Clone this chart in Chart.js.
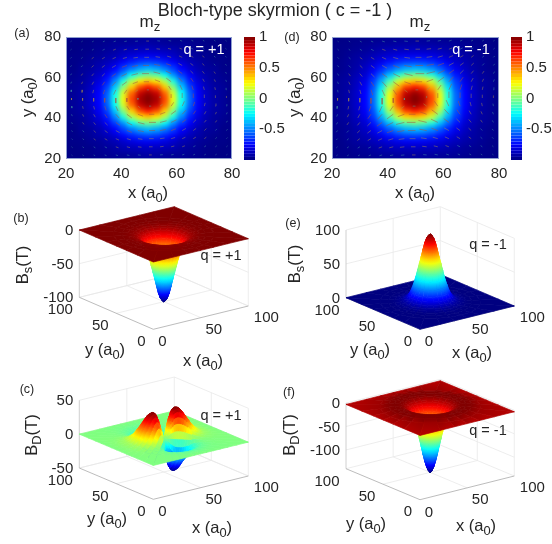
<!DOCTYPE html>
<html><head><meta charset="utf-8">
<style>
html,body{margin:0;padding:0;background:#fff;width:552px;height:544px;overflow:hidden}
canvas{position:absolute;left:0;top:0}
.t{position:absolute;white-space:nowrap;font-family:"Liberation Sans",Arial,sans-serif;color:#262626;transform:translate(-50%,-50%);line-height:1;z-index:5}
.t sub{font-size:.78em;vertical-align:-.32em;line-height:0}
</style>
<script src="https://cdn.jsdelivr.net/npm/chart.js@4"></script>
</head><body>
<script>
// ---------- heat-map data: mz x100, upper-right quadrant, rows dy=0,3..30, columns dx=0,3..30
const heatAxis=[20,23,26,29,32,35,38,41,44,47,50,53,56,59,62,65,68,71,74,77,80];
const mzQuadA=[
[100,93,62,22,-20,-55,-75,-86,-92,-95,-98],
[95,86,55,17,-24,-57,-76,-86,-92,-95,-98],
[71,60,34,1,-36,-63,-78,-88,-93,-95,-98],
[35,28,9,-20,-49,-70,-82,-90,-94,-96,-98],
[-2,-9,-24,-46,-63,-76,-86,-91,-95,-97,-98],
[-39,-43,-52,-63,-75,-84,-90,-94,-95,-98,-98],
[-63,-65,-70,-76,-84,-89,-92,-95,-97,-98,-99],
[-78,-79,-82,-86,-90,-92,-95,-96,-98,-98,-99],
[-87,-88,-89,-90,-93,-95,-96,-98,-98,-99,-99],
[-92,-93,-94,-95,-95,-96,-97,-98,-99,-99,-99],
[-95,-95,-96,-97,-97,-98,-98,-99,-99,-99,-99]];
const mzQuadD=[
[100,93,62,22,-20,-55,-75,-86,-92,-95,-98],
[95,87,57,19,-21,-56,-75,-86,-92,-95,-98],
[71,63,40,7,-31,-60,-77,-87,-93,-95,-98],
[35,31,15,-11,-42,-64,-80,-88,-93,-95,-98],
[-2,-7,-18,-37,-55,-71,-84,-90,-94,-96,-98],
[-39,-41,-48,-58,-69,-79,-87,-92,-95,-97,-98],
[-63,-64,-67,-72,-79,-85,-90,-93,-95,-97,-98],
[-78,-78,-80,-83,-86,-89,-92,-94,-96,-98,-98],
[-87,-88,-88,-89,-91,-93,-95,-96,-97,-98,-98],
[-92,-93,-93,-94,-94,-95,-96,-97,-98,-98,-99],
[-95,-95,-96,-96,-97,-97,-98,-98,-98,-99,-99]];
// in-plane arrow components (a0), by grid steps of 4 a0 from the centre
const arrowAxis=[22,26,30,34,38,42,46,50,54,58,62,66,70,74,78];
const arrowTable=[
[0,0,0,0,0,0,0,0],
[.8,.92,.94,.79,.52,.32,.21,.14],
[1.9,1.88,1.77,1.3,.89,.58,.38,.26],
[2.5,2.37,1.96,1.48,1.02,.69,.49,.33],
[2.2,2.09,1.79,1.36,1.03,.75,.53,.37],
[1.7,1.62,1.44,1.16,.94,.71,.51,.38],
[1.3,1.28,1.14,.98,.79,.61,.46,.36],
[1,.99,.91,.78,.65,.53,.42,.32]];
const colorbarLevels=[-1,-.95,-.9,-.85,-.8,-.75,-.7,-.65,-.6,-.55,-.5,-.45,-.4,-.35,-.3,-.25,-.2,-.15,-.1,-.05,0,.05,.1,.15,.2,.25,.3,.35,.4,.45,.5,.55,.6,.65,.7,.75,.8,.85,.9,.95,1];
const colorbarTicks=[1,.5,0,-.5];
const heatTicks=[20,40,60,80];
// ---------- surface data: radial distance from the centre (a0), value at each ring
const ringRadius=[0,1.5,3,4.5,6,7.5,9,10.5,12,14,16,18,20,23,26,30,35,42];
const bsProfileB=[-100,-98,-94,-87,-77,-66,-56,-46,-36,-25,-16,-10,-6,-3,-1.5,-.5,0,0,0];
const bsProfileE=[100,98,94,87,77,66,56,46,36,25,16,10,6,3,1.5,.5,0,0,0];
const bdProfileF=[-140,-136,-128,-116,-101,-84,-68,-52,-38,-22,-12,-6,-2,2,3.5,4,3,0,-3];
const bdAmplitudeC=[0,6,12,19,28,33,39,41,42,41,39,35,30,23,15,8,3,1,0];
const bdAngularC=[1,.97,.87,.71,.5,.26,0,-.26,-.5,-.71,-.87,-.97,-1,-.97,-.87,-.71,-.5,-.26,0,.26,.5,.71,.87,.97,
                  1,.97,.87,.71,.5,.26,0,-.26,-.5,-.71,-.87,-.97,-1,-.97,-.87,-.71,-.5,-.26,0,.26,.5,.71,.87,.97];
const flatAngular=[1,1,1,1,1,1,1,1,1,1,1,1,1,1,1,1,1,1,1,1,1,1,1,1];
const ticks3d=[0,50,100];
const zTicksB=[0,-50,-100], zTicksE=[0,50,100], zTicksC=[50,0,-50], zTicksF=[0,-50,-100];

const FONT='"Liberation Sans",Arial,sans-serif', INK='#262626';
const clamp=v=>Math.max(0,Math.min(1,v));
function jet(t){t=clamp(t);const c=k=>Math.round(255*clamp(1.5-Math.abs(4*t-k)));return `rgb(${c(3)},${c(2)},${c(1)})`;}
function el(){const c=document.createElement('canvas');c.width=552;c.height=544;document.body.appendChild(c);return c;}
const cellCache={};
function cell(color){if(!cellCache[color]){const c=document.createElement('canvas');c.width=10;c.height=8;const x=c.getContext('2d');x.fillStyle=color;x.fillRect(0,0,10,8);cellCache[color]=c;}return cellCache[color];}

const heatPlugin={id:'heatBlur',
 beforeDatasetsDraw(ch){const a=ch.chartArea,x=ch.ctx;x.save();x.fillStyle=jet(.03);x.fillRect(a.left-10,a.top-10,a.width+20,a.height+20);x.restore();},
 afterDatasetDraw(ch,args){ if(args.index!==ch.data.datasets.length-1)return;
  const cv=ch.canvas,off=document.createElement('canvas');off.width=cv.width;off.height=cv.height;off.getContext('2d').drawImage(cv,0,0);
  const x=ch.ctx,a=ch.chartArea,r=ch.currentDevicePixelRatio;x.save();x.setTransform(1,0,0,1,0,0);x.clearRect(0,0,cv.width,cv.height);
  x.beginPath();x.rect(a.left*r,a.top*r,a.width*r,a.height*r);x.clip();x.filter=`blur(${2.6*r}px)`;x.drawImage(off,0,0);x.restore();},
 afterDraw(ch){const a=ch.chartArea,x=ch.ctx;x.save();x.strokeStyle='#8f9fd0';x.lineWidth=1;x.strokeRect(a.left+.5,a.top+.5,a.width-1,a.height-1);x.restore();}};

function heatChart(quad,box,sign,scale){
 const cells=[];
 for(const yv of heatAxis)for(const xv of heatAxis){
  const j=Math.abs(yv-50)/3,i=Math.abs(xv-50)/3;cells.push({x:xv,y:yv,v:quad[j][i]/100});}
 const groups=[[],[],[]];
 arrowAxis.forEach((yv,jj)=>arrowAxis.forEach((xv,ii)=>{
  const i=ii-7,j=jj-7,ai=Math.abs(i),aj=Math.abs(j);
  const u=sign*Math.sign(j)*arrowTable[aj][ai]*scale,v=Math.sign(i)*arrowTable[ai][aj]*scale;
  const len=Math.hypot(u,v)/scale,g=len>=1.9?0:len>=1?1:2;
  groups[g].push({x:xv,y:yv},{x:xv+u,y:yv+v},{x:null,y:null});}));
 const colors=['rgba(168,80,60,.85)','rgba(168,144,72,.8)','rgba(79,168,160,.7)'];
 const ds=groups.map((d,k)=>({data:d,showLine:true,pointRadius:0,borderColor:colors[k],borderWidth:.6,spanGaps:false}));
 ds.push({data:cells,clip:false,pointStyle:c=>c.raw?cell(jet((c.raw.v+1)/2)):'rect',pointRadius:6,borderWidth:0,backgroundColor:'#000'});
 const tk={color:INK,font:{family:FONT,size:15},maxRotation:0,autoSkip:false};
 const gr={display:false,drawTicks:false,z:1};
 new Chart(el(),{type:'scatter',data:{datasets:ds},plugins:[heatPlugin],options:{
  animation:false,responsive:false,events:[],layout:{autoPadding:false,padding:{left:0,right:552-box.r,top:box.t,bottom:544-box.b-30}},
  plugins:{legend:{display:false},tooltip:{enabled:false}},
  scales:{
   x:{type:'linear',min:20,max:80,afterBuildTicks:s=>{s.ticks=heatTicks.map(v=>({value:v}))},grid:gr,border:{display:false,z:1},ticks:{...tk,z:1,padding:6},afterFit:s=>{s.height=30}},
   y:{type:'linear',min:20,max:80,afterBuildTicks:s=>{s.ticks=heatTicks.map(v=>({value:v}))},grid:gr,border:{display:false,z:1},ticks:{...tk,z:1,padding:5},afterFit:s=>{s.width=box.l}}
  }}});
}
function colorbar(box){
 new Chart(el(),{type:'scatter',data:{datasets:[{data:colorbarLevels.map(v=>({x:0,y:v})),showLine:true,pointRadius:0,borderWidth:box.w,borderCapStyle:'butt',
   segment:{borderColor:c=>jet(((c.p0.parsed.y+c.p1.parsed.y)/2+1)/2)}}]},
  options:{animation:false,responsive:false,events:[],layout:{autoPadding:false,padding:{left:box.l,right:Math.max(0,552-box.l-box.w-40),top:37,bottom:544-160}},
   plugins:{legend:{display:false},tooltip:{enabled:false}},
   scales:{x:{type:'linear',display:false,min:-1,max:1},
    y:{type:'linear',position:'right',min:-1,max:1,afterBuildTicks:s=>{s.ticks=colorbarTicks.map(v=>({value:v}))},grid:{display:false,drawTicks:false},border:{display:false},
      ticks:{color:INK,font:{family:FONT,size:15},padding:4,autoSkip:false,callback:v=>String(v)},afterFit:s=>{s.width=Math.min(40,552-box.l-box.w)}}}}});
}

function surface(p){
 const cv=el(),g2=cv.getContext('2d');
 const proj=(x,y,z)=>({x:p.o[0]+x*p.ex[0]+y*p.ey[0],y:p.o[1]+x*p.ex[1]+y*p.ey[1]-(z-p.zmin)*p.ez});
 const ds=[],n=p.ang.length,rN=ringRadius.length;
 const pt=(a,k)=>{const th=a*2*Math.PI/n,c=Math.cos(th),s=Math.sin(th);
  const r=k<rN?ringRadius[k]:50/Math.max(Math.abs(c),Math.abs(s));
  const z=p.prof[k]*p.ang[a%n];return {x:50+r*c,y:50+r*s,z};};
 const quads=[];
 for(let k=0;k<rN;k++)for(let a=0;a<n;a++){
  const c=[pt(a,k),pt(a+1,k),pt(a+1,k+1),pt(a,k+1)];
  const mx=(c[0].x+c[1].x+c[2].x+c[3].x)/4,my=(c[0].y+c[1].y+c[2].y+c[3].y)/4,mz=(c[0].z+c[1].z+c[2].z+c[3].z)/4;
  const g=mx*p.ex[1]+my*p.ey[1];
  quads.push({c,z:mz,depth:3*g+mz*p.ez});}
 quads.sort((a,b)=>b.depth-a.depth);
 const norm=z=>(z-p.cl[0])/(p.cl[1]-p.cl[0]);
 for(const q of quads){
  const d=q.c.map(v=>proj(v.x,v.y,v.z));d.push(d[0]);
  const zi=(q.c[0].z+q.c[1].z)/2,zo=(q.c[2].z+q.c[3].z)/2;
  const ax=(d[0].x+d[1].x)/2,ay=(d[0].y+d[1].y)/2,bx=(d[2].x+d[3].x)/2,by=(d[2].y+d[3].y)/2;
  const gr=g2.createLinearGradient(ax,ay,bx,by);
  gr.addColorStop(0,jet(norm(zi)));gr.addColorStop(.5,jet(norm((zi+zo)/2)));gr.addColorStop(1,jet(norm(zo)));
  ds.push({data:d,showLine:true,pointRadius:0,fill:'shape',backgroundColor:gr,borderColor:gr,borderWidth:.7});}
 const line=(a,b,col,w)=>ds.push({data:[proj(...a),proj(...b)],showLine:true,pointRadius:0,borderColor:col,borderWidth:w||.8});
 const PALE='#e9e9e9',AX='#ababab',zb=p.zmin,zt=p.zmax;
 line([0,0,zb],[100,0,zb],AX);line([0,0,zb],[0,100,zb],AX);line([0,100,zb],[0,100,zt],'#c4c4c4');
 line([50,0,zb],[50,100,zb],PALE);line([0,50,zb],[100,50,zb],PALE);
 line([100,0,zb],[100,100,zb],PALE);line([0,100,zb],[100,100,zb],PALE);
 line([100,100,zb],[100,100,zt],PALE);line([100,0,zb],[100,0,zt],PALE);
 line([50,100,zb],[50,100,zt],PALE);line([100,50,zb],[100,50,zt],PALE);
 for(const zv of p.zt){line([0,100,zv],[100,100,zv],PALE);line([100,100,zv],[100,0,zv],PALE);}
 const labelPlugin={id:'labels3d',afterDraw(ch){const c=ch.ctx,sx=ch.scales.x,sy=ch.scales.y;c.save();c.font=`15px ${FONT}`;c.fillStyle=INK;c.textBaseline='middle';
   const L=proj(0,100,0).x-6;c.textAlign='right';
   for(const zv of p.zt)c.fillText(String(zv),sx.getPixelForValue(L),sy.getPixelForValue(proj(0,100,zv).y)+1);
   c.textAlign='center';
   const xo=[[9,13],[13,12.4],[18,12]],yo=[[-12,12.4],[-16,13],[-19,13]];
   ticks3d.forEach((v,i)=>{const a=proj(v,0,zb),b=proj(0,v,zb);
    c.fillText(String(v),sx.getPixelForValue(a.x+xo[i][0]),sy.getPixelForValue(a.y+xo[i][1]));
    c.fillText(String(v),sx.getPixelForValue(b.x+yo[i][0]),sy.getPixelForValue(b.y+yo[i][1]));});
   c.restore();}};
 new Chart(cv,{type:'scatter',data:{datasets:ds},plugins:[labelPlugin],options:{animation:false,responsive:false,events:[],
  layout:{autoPadding:false,padding:0},plugins:{legend:{display:false},tooltip:{enabled:false}},
  scales:{x:{type:'linear',display:false,min:0,max:552},y:{type:'linear',display:false,reverse:true,min:0,max:544}}}});
}

heatChart(mzQuadA,{l:66,r:232,t:37,b:159},-1,1);
heatChart(mzQuadD,{l:332,r:499,t:37,b:159},1,1.25);
colorbar({l:244,w:11});
colorbar({l:511,w:11});
surface({o:[153.3,329.3],ex:[.95,-.233],ey:[-.74,-.32],ez:.673,zmin:-100,zmax:0,zt:zTicksB,prof:bsProfileB,ang:flatAngular,cl:[-100,0]});
surface({o:[420,329.3],ex:[.943,-.233],ey:[-.74,-.316],ez:.677,zmin:0,zmax:100,zt:zTicksE,prof:bsProfileE,ang:flatAngular,cl:[0,100]});
surface({o:[153.3,499.3],ex:[.95,-.233],ey:[-.74,-.313],ez:.677,zmin:-50,zmax:50,zt:zTicksC,prof:bdAmplitudeC,ang:bdAngularC,cl:[-42,42]});
surface({o:[420,499.7],ex:[.943,-.237],ey:[-.74,-.31],ez:.469,zmin:-140,zmax:0,zt:zTicksF,prof:bdProfileF,ang:flatAngular,cl:[-140,4]});

const A0='(a<sub>0</sub>)';
const texts=[
['Bloch-type skyrmion ( c = -1 )',275,10,18],
['m<sub>z</sub>',150,21,17],['m<sub>z</sub>',420,21,17],
['(a)',22,33,12.5],['(d)',292,37,12.5],['(b)',21,218,12.5],['(e)',293,223,12.5],['(c)',27,389,12.5],['(f)',289,392,12.5],
['q = +1',204,49,14.5,0,'#fff'],['q = -1',471,49,14.5,0,'#fff'],
['q = +1',221,255,14.5],['q = -1',488,244,14.5],['q = +1',221,415,14.5],['q = -1',488,430,14.5],
['x '+A0,148,192,16.5],['x '+A0,415,192,16.5],['y '+A0,27,97,16.5,-90],['y '+A0,294,97,16.5,-90],
['y '+A0,105,349,16.5],['x '+A0,203,360,16.5],['B<sub>s</sub>(T)',22,265,16.5,-90],
['y '+A0,370,349,16.5],['x '+A0,472,352,16.5],['B<sub>s</sub>(T)',294,264,16.5,-90],
['y '+A0,107,518,16.5],['x '+A0,212,527,16.5],['B<sub>D</sub>(T)',31,435,16.5,-90],
['y '+A0,366,523,16.5],['x '+A0,476,525,16.5],['B<sub>D</sub>(T)',289,435,16.5,-90]];
for(const [h,x,y,s,r,c] of texts){const d=document.createElement('div');d.className='t';d.innerHTML=h;
 d.style.left=x+'px';d.style.top=y+'px';d.style.fontSize=s+'px';if(r)d.style.transform=`translate(-50%,-50%) rotate(${r}deg)`;if(c)d.style.color=c;document.body.appendChild(d);}
</script>
</body></html>
